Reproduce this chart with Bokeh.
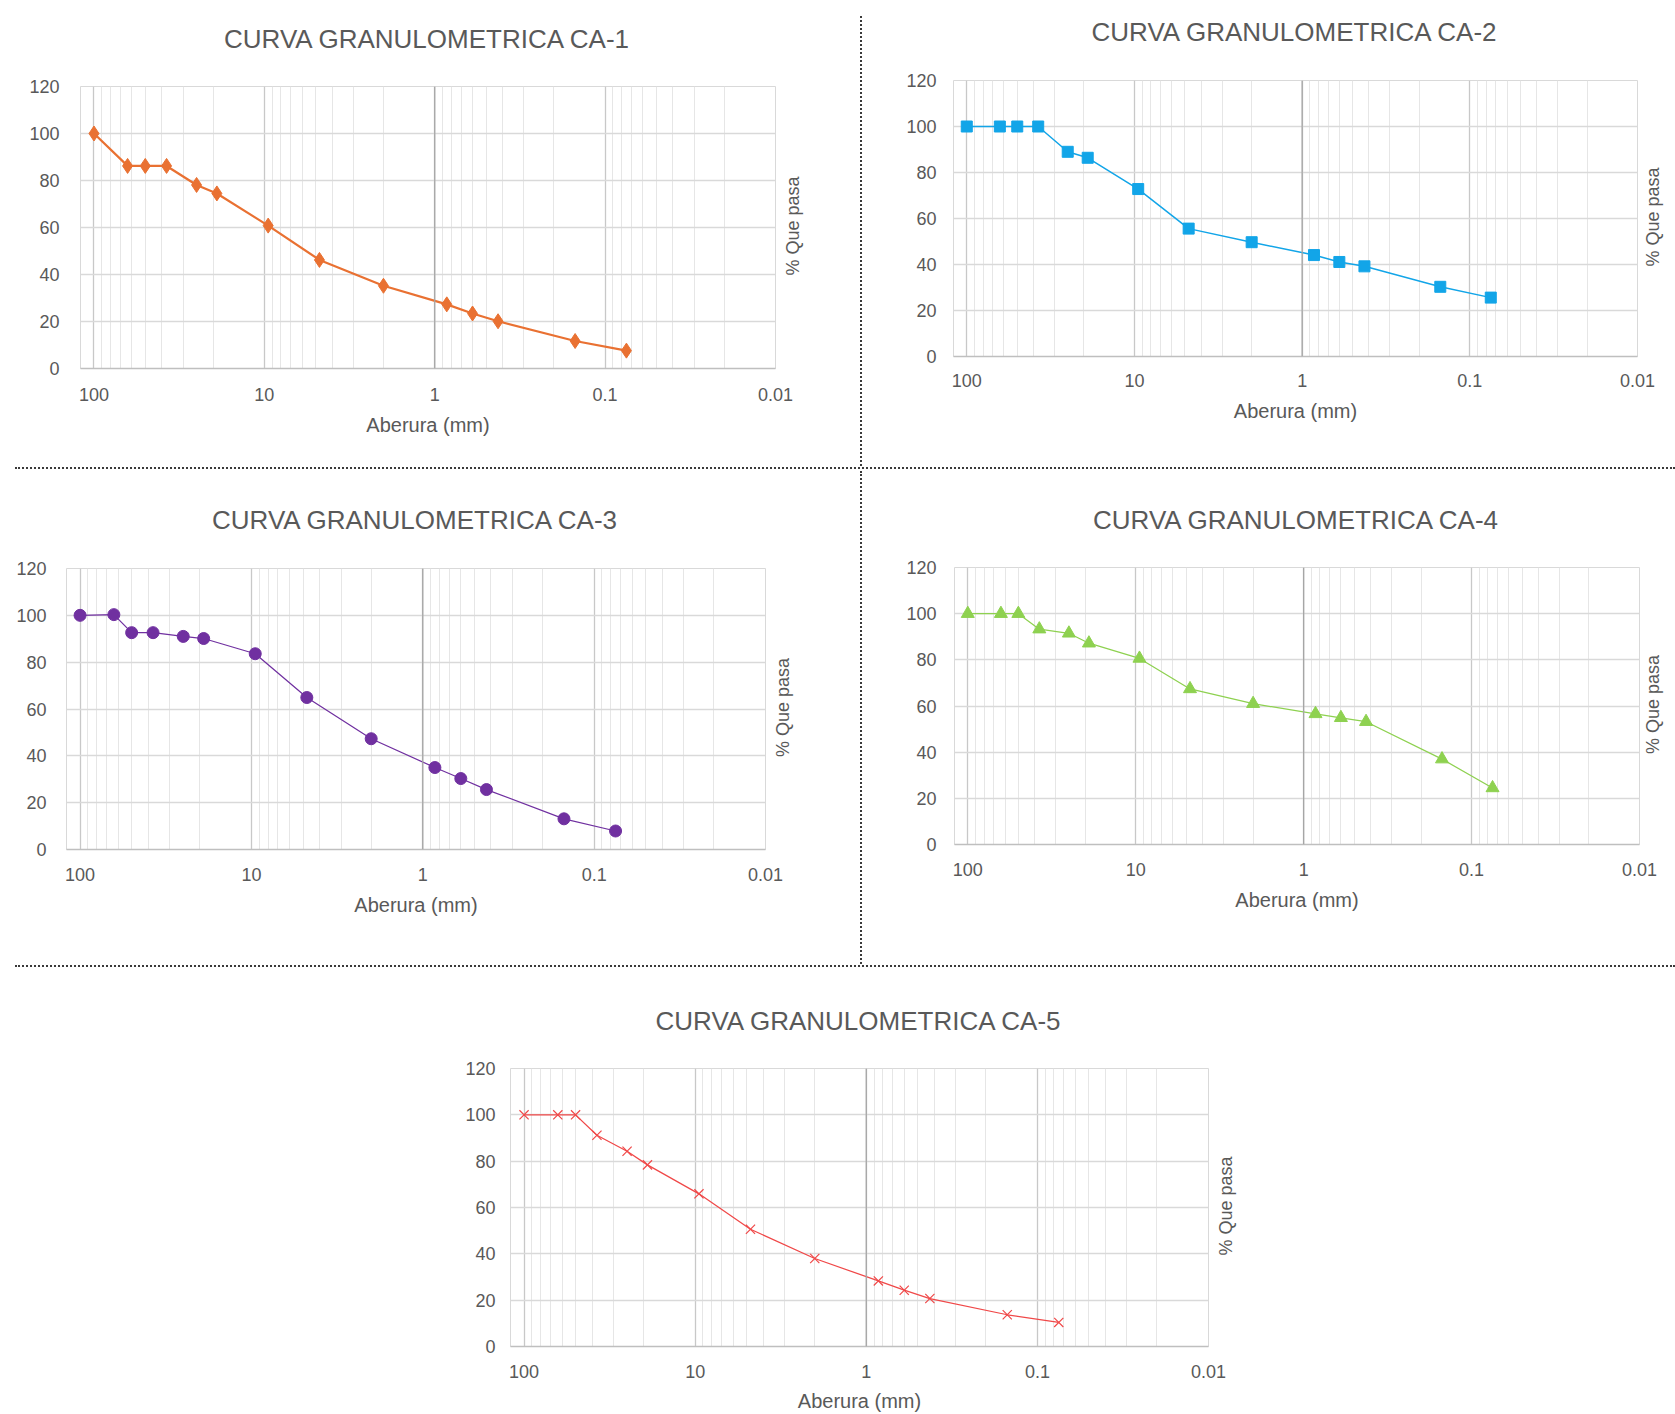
import math
from bokeh.plotting import figure
from bokeh.layouts import column, row
from bokeh.models import (Div, Spacer, Range1d, FixedTicker, NumeralTickFormatter, Span,
                          LinearAxis)
from bokeh.embed import file_html
from bokeh.resources import INLINE

# ---------------- data ----------------
SIEVE_MM = [100, 63.5, 50, 37.5, 25, 19, 9.5, 4.75, 2.0, 0.85, 0.6, 0.425, 0.15, 0.075]
CA1 = [100, 86.2, 86.2, 86.2, 78.1, 74.5, 60.8, 46.2, 35.2, 27.3, 23.4, 20.1, 11.7, 7.6]
CA2 = [100, 100, 100, 100, 89.0, 86.4, 72.8, 55.6, 49.7, 44.1, 41.1, 39.2, 30.3, 25.6]
CA3 = [100, 100.3, 92.6, 92.6, 91.0, 90.1, 83.6, 64.9, 47.3, 35.0, 30.3, 25.6, 13.1, 7.9]
CA4 = [100, 100, 100, 93.3, 91.5, 87.2, 80.6, 67.4, 61.0, 56.6, 54.9, 53.2, 37.0, 24.5]
CA5 = [100, 100, 100, 91.2, 84.3, 78.4, 65.9, 50.6, 38.0, 28.3, 24.3, 20.7, 13.7, 10.4]

TITLES = ["CURVA GRANULOMETRICA CA-1", "CURVA GRANULOMETRICA CA-2",
          "CURVA GRANULOMETRICA CA-3", "CURVA GRANULOMETRICA CA-4",
          "CURVA GRANULOMETRICA CA-5"]
X_TICKS = [100, 10, 1, 0.1, 0.01]
Y_TICKS = [0, 20, 40, 60, 80, 100, 120]
X_LABEL = "Aberura (mm)"
Y_LABEL = "% Que pasa"

FONT = "Liberation Sans"
TXT = "#595959"
QP_HALF_PX = 48  # half the length of the rotated right-hand title, in pixels

minor = []
for d in [10, 1, 0.1, 0.01]:
    for k in range(2, 10):
        minor.append(round(k * d, 6))


def make_chart(title, ys, color, marker, msize, lw, w, h, bl, br, bt, bb,
               y_std, x_std, xl_std, t_std, qp_std):
    # the empty second line lifts the title away from the plot frame
    p = figure(width=w, height=h, x_axis_type="log",
               x_range=Range1d(120, 0.01), y_range=Range1d(0, 120),
               output_backend="svg", toolbar_location=None,
               min_border_left=bl, min_border_right=br,
               min_border_top=bt, min_border_bottom=bb,
               title=title + "\n ")
    p.title.align = "center"
    p.title.text_font = FONT
    p.title.text_font_size = "26px"
    p.title.text_font_style = "normal"
    p.title.text_color = TXT
    p.title.standoff = t_std

    p.outline_line_color = "#D9D9D9"
    p.background_fill_color = "white"
    p.border_fill_color = "white"

    p.xaxis.ticker = FixedTicker(ticks=X_TICKS, minor_ticks=minor)
    p.xaxis.formatter = NumeralTickFormatter(format="0.[00]")
    p.yaxis.ticker = FixedTicker(ticks=Y_TICKS)

    for ax in (p.xaxis, p.yaxis):
        ax.major_tick_line_color = None
        ax.minor_tick_line_color = None
        ax.major_label_text_font = FONT
        ax.major_label_text_font_size = "18px"
        ax.major_label_text_color = TXT
    p.yaxis.axis_line_color = None
    p.xaxis.axis_line_color = "#BFBFBF"
    p.xaxis.axis_line_width = 1.5
    p.yaxis.major_label_standoff = y_std
    p.xaxis.major_label_standoff = x_std
    p.xaxis.axis_label = X_LABEL
    p.xaxis.axis_label_text_font = FONT
    p.xaxis.axis_label_text_font_size = "20px"
    p.xaxis.axis_label_text_font_style = "normal"
    p.xaxis.axis_label_text_color = TXT
    p.xaxis.axis_label_standoff = xl_std

    p.xgrid.grid_line_color = "#C8C8C8"
    p.xgrid.grid_line_width = 1.3
    p.xgrid.minor_grid_line_color = "#E6E6E6"
    p.xgrid.minor_grid_line_width = 1.0
    p.ygrid.grid_line_color = "#D9D9D9"
    p.ygrid.grid_line_width = 1.5

    p.add_layout(Span(location=1, dimension="height", line_color="#A6A6A6", line_width=1.3))

    p.line(SIEVE_MM, ys, line_color=color, line_width=lw)
    if marker == "x":
        p.scatter(SIEVE_MM, ys, marker="x", size=msize, line_color=color, line_width=1.2)
    else:
        p.scatter(SIEVE_MM, ys, marker=marker, size=msize, fill_color=color,
                  line_color=color)

    # right-hand title "% Que pasa", reading bottom to top, centred on the y range
    frame_h = h - bt - bb
    mid = (Y_TICKS[0] + Y_TICKS[-1]) / 2
    start = round(mid - QP_HALF_PX * (Y_TICKS[-1] - Y_TICKS[0]) / frame_h, 2)
    rax = LinearAxis(ticker=FixedTicker(ticks=[start]),
                     major_label_overrides={start: Y_LABEL},
                     major_label_orientation=math.pi / 2,
                     major_label_standoff=qp_std,
                     major_label_text_font=FONT,
                     major_label_text_font_size="18px",
                     major_label_text_color=TXT,
                     axis_line_color=None,
                     major_tick_line_color=None,
                     minor_tick_line_color=None,
                     major_tick_out=0, minor_tick_out=0,
                     major_tick_in=0, minor_tick_in=0)
    p.add_layout(rax, "right")
    return p


f1 = make_chart(TITLES[0], CA1, "#E97132", "diamond", 15, 2.25,
                859, 466, 80, 84, 86, 98, 15, 13, 10, 6, 18)
f2 = make_chart(TITLES[1], CA2, "#12A5E8", "square", 11, 1.5,
                812, 466, 89, 33, 80, 110, 11, 11, 10, 8, 16)
f3 = make_chart(TITLES[2], CA3, "#7030A0", "circle", 12, 1.25,
                859, 493, 66, 94, 97, 115, 14, 12, 10, 8, 18)
f4 = make_chart(TITLES[3], CA4, "#8ED150", "triangle", 13, 1.25,
                812, 493, 90, 29, 96, 120, 12, 12, 10, 6, 14)
f5 = make_chart(TITLES[4], CA5, "#F04848", "x", 13, 1.25,
                840, 447, 90, 52, 99, 70, 9, 12, 9, 6, 18)

DOT = "2px dotted #3a3a3a"


def vsep(h, top=0):
    return column(Spacer(width=4, height=top, margin=0),
                  Div(text="", width=4, height=h - top, margin=0,
                      styles={"border-left": DOT, "box-sizing": "border-box",
                              "margin-left": "1px"}),
                  spacing=0)


def hsep():
    return row(Spacer(width=15, height=4, margin=0),
               Div(text="", width=1660, height=4, margin=0,
                   styles={"border-top": DOT, "box-sizing": "border-box", "margin-top": "1px"}),
               spacing=0)


layout = column(
    row(column(f1), vsep(466, 16), column(f2), spacing=0),
    hsep(),
    row(column(f3), vsep(493), column(f4), spacing=0),
    hsep(),
    row(Spacer(width=420, height=447, margin=0), f5, spacing=0),
    spacing=0,
)

open("out.html", "w").write(file_html(layout, INLINE))
